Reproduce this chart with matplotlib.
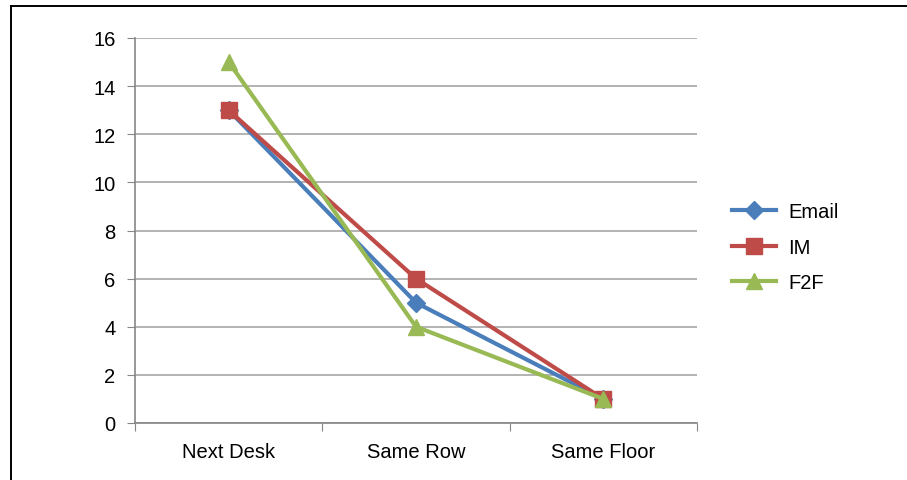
import matplotlib.pyplot as plt
from matplotlib.lines import Line2D

categories = ['Next Desk', 'Same Row', 'Same Floor']
email = [13, 5, 1]
im = [13, 6, 1]
f2f = [15, 4, 1]

plt.rcParams['font.family'] = ['Liberation Sans', 'DejaVu Sans']

fig = plt.figure(figsize=(9.07, 4.81), dpi=100)
ax = fig.add_axes([135 / 907, 57 / 481, 562 / 907, 385 / 481])

x = [0.5, 1.5, 2.5]
ax.plot(x, email, color='#4A7EBB', lw=3, marker='D', ms=9, label='Email', zorder=3)
ax.plot(x, im, color='#BE4B48', lw=3, marker='s', ms=11, label='IM', zorder=4)
ax.plot(x, f2f, color='#98B954', lw=3, marker='^', ms=12, label='F2F', zorder=5)

ax.set_xlim(0, 3)
ax.set_ylim(0, 16)
ax.set_yticks(range(0, 17, 2))
ax.set_xticks([0, 1, 2, 3])
ax.set_xticklabels([])
ax.set_xticks(x, minor=True)
ax.set_xticklabels(categories, minor=True)
ax.tick_params(axis='x', which='minor', length=0, pad=14, labelsize=14.5)
ax.tick_params(axis='x', which='major', length=6, color='#868686')
ax.tick_params(axis='y', length=6, color='#868686', labelsize=14.5, pad=8)

ax.grid(axis='y', color='#A6A6A6', lw=1.2)
ax.set_axisbelow(True)
for s in ['top', 'right']:
    ax.spines[s].set_visible(False)
for s in ['left', 'bottom']:
    ax.spines[s].set_color('#868686')
    ax.spines[s].set_linewidth(1.2)

ax.legend(loc='center left', bbox_to_anchor=(1.03, 0.457), frameon=False,
          fontsize=14.5, handlelength=2.2, labelspacing=0.8, handletextpad=0.6)

# outer chart frame (top and left edges)
fig.add_artist(Line2D([11 / 907, 1], [1 - 7 / 481, 1 - 7 / 481], color='black', lw=1.4))
fig.add_artist(Line2D([11 / 907, 11 / 907], [0, 1 - 7 / 481], color='black', lw=1.4))

plt.savefig('out.png', dpi=100)
